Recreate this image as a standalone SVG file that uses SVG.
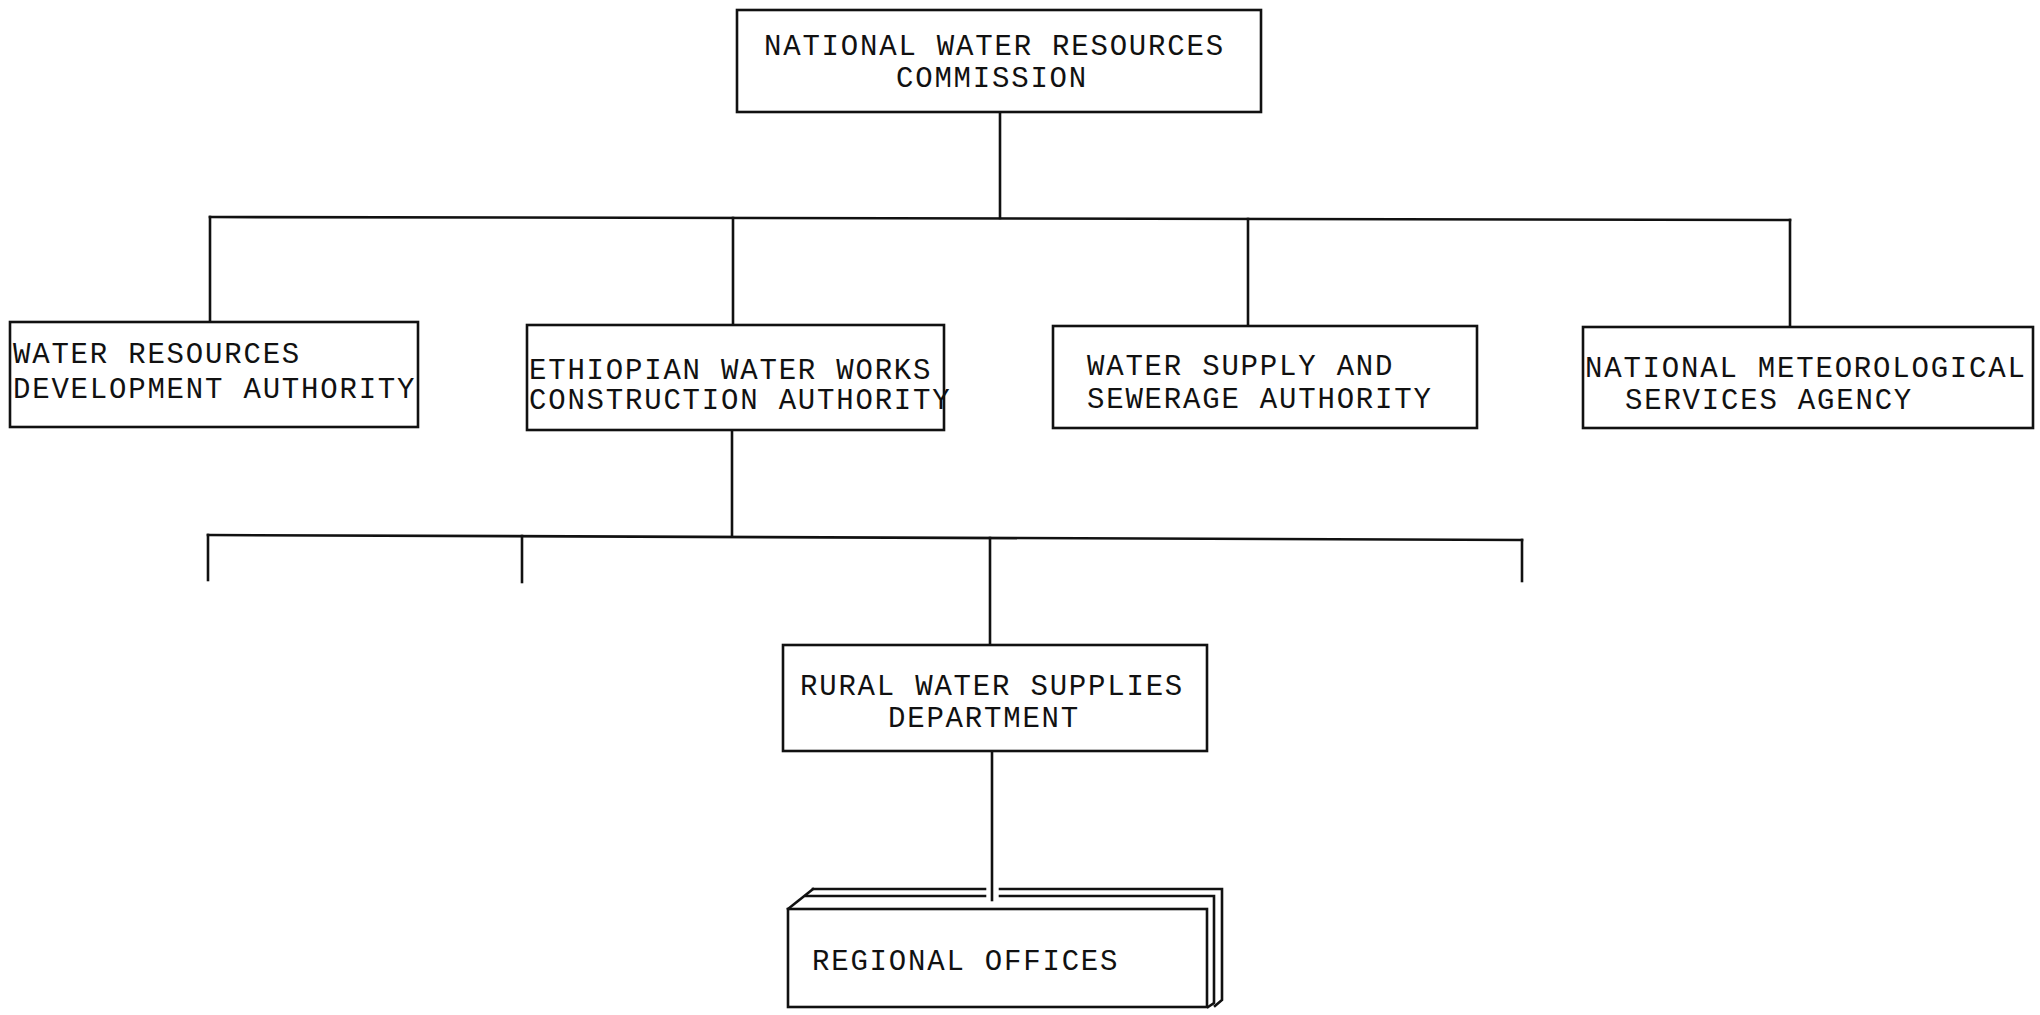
<svg xmlns="http://www.w3.org/2000/svg" width="2040" height="1015" viewBox="0 0 2040 1015">
<style>
.box{fill:#fff;stroke:#111;stroke-width:2.6}
.ln{fill:none;stroke:#111;stroke-width:2.6;stroke-linecap:square}
.t{font-family:"Liberation Mono","Courier New",monospace;font-size:29px;letter-spacing:1.8px;fill:#111}
</style>
<rect width="2040" height="1015" fill="#fff"/>
<g id="connectors">
<path class="ln" d="M1000,112 V218"/>
<path class="ln" d="M210,217 L1790,220"/>
<path class="ln" d="M210,217 V322"/>
<path class="ln" d="M733,218 V325"/>
<path class="ln" d="M1248,219 V326"/>
<path class="ln" d="M1790,220 V327"/>
<path class="ln" d="M732,430 V536"/>
<path class="ln" d="M208,535 L1522,540"/>
<path class="ln" d="M208,535 V580"/>
<path class="ln" d="M522,536 V582"/>
<path class="ln" d="M990,538 V645"/>
<path class="ln" d="M1522,540 V581"/>
<path class="ln" d="M992,751 V900"/>
</g>
<g id="n_nwrc">
<rect class="box" x="737" y="10" width="524" height="102"/>
<text class="t" x="764" y="55">NATIONAL WATER RESOURCES</text>
<text class="t" x="896" y="87">COMMISSION</text>
</g>
<g id="n_wrda">
<rect class="box" x="10" y="322" width="408" height="105"/>
<text class="t" x="13" y="363">WATER RESOURCES</text>
<text class="t" x="13" y="398">DEVELOPMENT AUTHORITY</text>
</g>
<g id="n_ewwca">
<rect class="box" x="527" y="325" width="417" height="105"/>
<text class="t" x="529" y="379">ETHIOPIAN WATER WORKS</text>
<text class="t" x="529" y="409">CONSTRUCTION AUTHORITY</text>
</g>
<g id="n_wssa">
<rect class="box" x="1053" y="326" width="424" height="102"/>
<text class="t" x="1087" y="375">WATER SUPPLY AND</text>
<text class="t" x="1087" y="408">SEWERAGE AUTHORITY</text>
</g>
<g id="n_nmsa">
<rect class="box" x="1583" y="327" width="450" height="101"/>
<text class="t" x="1585" y="377">NATIONAL METEOROLOGICAL</text>
<text class="t" x="1625" y="409">SERVICES AGENCY</text>
</g>
<g id="n_rwsd">
<rect class="box" x="783" y="645" width="424" height="106"/>
<text class="t" x="800" y="695">RURAL WATER SUPPLIES</text>
<text class="t" x="888" y="727">DEPARTMENT</text>
</g>
<g id="n_regional">
<path class="ln" d="M813,889 H985 M1000,889 H1222 V1000 L1215,1006"/>
<path class="ln" d="M806,896 H985 M1000,896 H1214 V1003 L1208,1007"/>
<path class="ln" d="M788,909 L813,889"/>
<rect class="box" x="788" y="909" width="419" height="98"/>
<text class="t" x="812" y="970">REGIONAL OFFICES</text>
</g>
</svg>
